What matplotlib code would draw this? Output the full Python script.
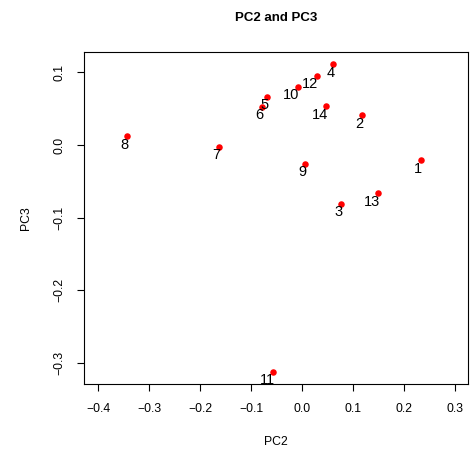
import matplotlib
matplotlib.use("Agg")
import matplotlib.pyplot as plt

labels = ["1", "2", "3", "4", "5", "6", "7", "8", "9", "10", "11", "12", "13", "14"]
pc2 = [0.233, 0.117, 0.0765, 0.061, -0.0686, -0.078, -0.162, -0.344, 0.0059, -0.0085, -0.056, 0.029, 0.150, 0.0477]
pc3 = [-0.021, 0.0406, -0.081, 0.111, 0.0667, 0.0525, -0.0027, 0.0119, -0.026, 0.080, -0.312, 0.095, -0.0667, 0.053]
xticks = [-0.4, -0.3, -0.2, -0.1, 0.0, 0.1, 0.2, 0.3]
yticks = [-0.3, -0.2, -0.1, 0.0, 0.1]

plt.rcParams['font.family'] = ['Liberation Sans', 'DejaVu Sans']


def fmt(t):
    return ("%.1f" % t).replace("-", "\u2212")


W, H = 472, 455
fig = plt.figure(figsize=(W / 100, H / 100), dpi=100)
ax = fig.add_axes([84 / W, 1 - 384 / H, (468 - 84) / W, (384 - 52) / H])

ax.scatter(pc2, pc3, s=22, color='red', zorder=3, linewidths=0)
for lab, x, y in zip(labels, pc2, pc3):
    ax.annotate(lab, (x, y), xytext=(1, -1), textcoords='offset points',
                ha='right', va='top', fontsize=10.5)

ax.set_xlim(-0.428, 0.326)
ax.set_ylim(-0.329, 0.128)
ax.set_xticks(xticks)
ax.set_xticklabels([fmt(t) for t in xticks])
ax.set_yticks(yticks)
ax.set_yticklabels([fmt(t) for t in yticks], rotation=90, va='center')
ax.tick_params(direction='out', length=5, width=0.8, labelsize=8.8, pad=8.5)
for s in ax.spines.values():
    s.set_linewidth(0.8)

fig.text(276 / W, 1 - 18 / H, "PC2 and PC3", ha='center', va='center',
         fontsize=9.5, fontweight='bold')
fig.text(276 / W, 1 - 442 / H, "PC2", ha='center', va='center', fontsize=8.8)
fig.text(26 / W, 1 - 218 / H, "PC3", ha='center', va='center', fontsize=8.8, rotation=90)

fig.savefig("out.png", dpi=100)
